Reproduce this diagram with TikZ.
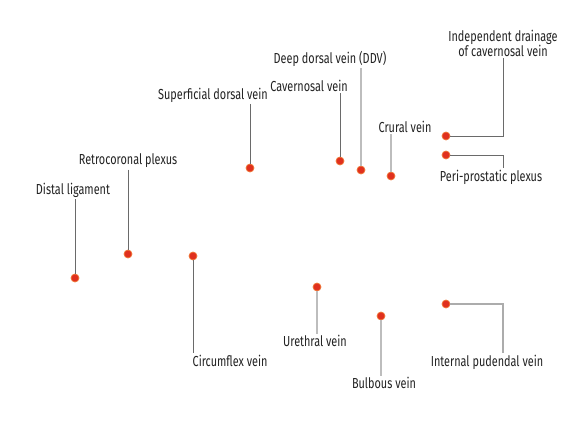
\documentclass[tikz,border=0pt]{standalone}
\usepackage{fontspec}
\setmainfont[FakeStretch=0.75]{Fira Sans}
\usetikzlibrary{positioning,calc}
\definecolor{veinred}{HTML}{E0301E}
\definecolor{veinrim}{HTML}{F07A3A}
\definecolor{textgray}{HTML}{222222}
\definecolor{darkline}{HTML}{6A6A6A}
\definecolor{lightline}{HTML}{BDBDBD}
\tikzset{
  vein/.style     = {circle, fill=veinred, draw=veinrim, line width=0.7pt, inner sep=0pt, minimum size=8pt},
  tag/.style      = {font=\fontsize{14.5}{15}\selectfont, text=textgray, inner sep=1.5pt, align=center},
  lead/.style     = {draw=darkline, line width=0.9pt},
  lead light/.style = {draw=lightline, line width=1.8pt}
}
\begin{document}
\begin{tikzpicture}[x=1pt, y=-1pt]
      \useasboundingbox (0,0) rectangle (575,420);
      % dots
      \node[vein] (dl)   at (75,278) {};
      \node[vein] (rcp)  at (128,254) {};
      \node[vein] (cfx)  at (193,256) {};
      \node[vein] (sdv)  at (250,168) {};
      \node[vein] (cav)  at (340,161) {};
      \node[vein] (ddv)  at (361,170) {};
      \node[vein] (cru)  at (391,176) {};
      \node[vein] (ind)  at (446,136) {};
      \node[vein] (ppx)  at (446,155) {};
      \node[vein] (ure)  at (317,287) {};
      \node[vein] (bul)  at (381,316) {};
      \node[vein] (ipv)  at (446,304) {};
      % labels
      \node[tag] (dl-t)  at (73,190)  {Distal ligament};
      \node[tag] (rcp-t) at (128,161) {Retrocoronal plexus};
      \node[tag, anchor=north west] (cfx-t) at (191,353) {Circumflex vein};
      \node[tag] (sdv-t) at (213,95)  {Superficial dorsal vein};
      \node[tag] (cav-t) at (309,86)  {Cavernosal vein};
      \node[tag] (ddv-t) at (330,59)  {Deep dorsal vein (DDV)};
      \node[tag] (cru-t) at (405,127) {Crural vein};
      \node[tag] (ind-t) at (503,43)  {Independent drainage\\of cavernosal vein};
      \node[tag] (ppx-t) at (491,177) {Peri-prostatic plexus};
      \node[tag] (ure-t) at (315,341) {Urethral vein};
      \node[tag] (bul-t) at (384,383) {Bulbous vein};
      \node[tag] (ipv-t) at (487,362) {Internal pudendal vein};
      % leaders
      \draw[lead] (dl-t.south -| dl) -- (dl);
      \draw[lead] (rcp-t) -- (rcp);
      \draw[lead] (cfx) -- (cfx-t.north west -| cfx);
      \draw[lead] (sdv-t.south -| sdv) -- (sdv);
      \draw[lead] (cav-t.south -| cav) -- (cav);
      \draw[lead light] (ddv-t.south -| ddv) -- (ddv);
      \draw[lead light] (cru-t.south -| cru) -- (cru);
      \draw[lead] (ind-t.south) |- (ind);
      \draw[lead] (ppx) -| ([xshift=12pt]ppx-t.north);
      \draw[lead light] (ure) -- (ure-t.north -| ure);
      \draw[lead light] (bul) -- (bul-t.north -| bul);
      \draw[lead, draw=lightline!80!darkline, line width=1.3pt] (ipv) -| ([xshift=16pt]ipv-t.north);
\end{tikzpicture}
\end{document}
